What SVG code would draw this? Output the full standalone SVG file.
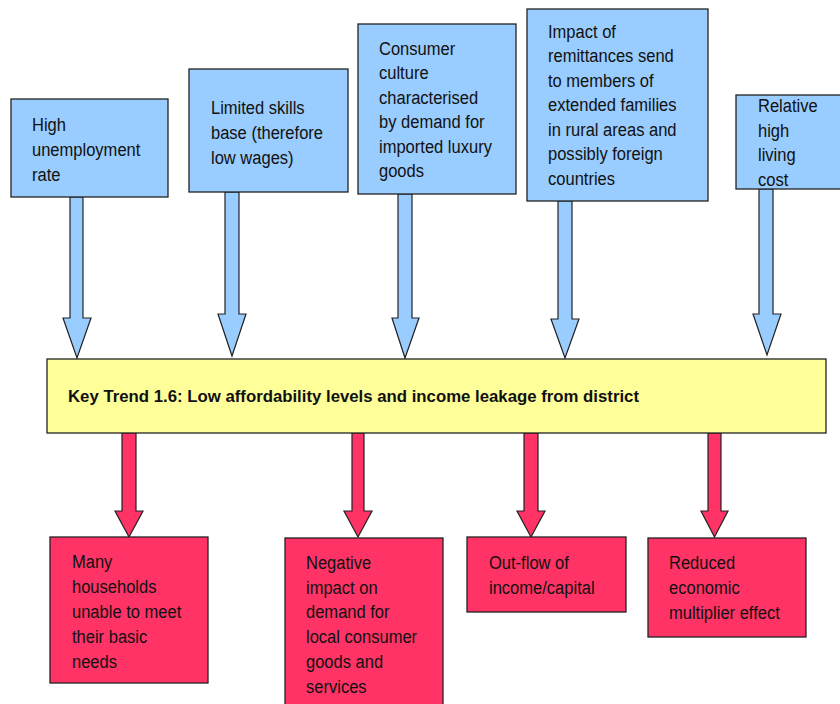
<svg xmlns="http://www.w3.org/2000/svg" width="840" height="704" viewBox="0 0 840 704">
  <style>
    .cause { fill: #99ccff; stroke: #222; stroke-width: 1.3; }
    .trend { fill: #ffff99; stroke: #222; stroke-width: 1.3; }
    .effect { fill: #ff3366; stroke: #222; stroke-width: 1.3; }
    .arrow-in { fill: #99ccff; stroke: #222; stroke-width: 1.2; stroke-linejoin: miter; }
    .arrow-out { fill: #ff3366; stroke: #222; stroke-width: 1.2; stroke-linejoin: miter; }
    text { font-family: "Liberation Sans", Arial, sans-serif; font-size: 19px; fill: #111; }
    .title { font-weight: bold; font-size: 17px; }
  </style>
  <rect width="840" height="704" fill="#ffffff"/>

  <!-- connectors: block arrows into and out of the key trend -->
  <g id="connectors">
    <path class="arrow-in" d="M70,197 H83 V318 H91 L77,358 L63,318 H70 Z"/>
    <path class="arrow-in" d="M225,192 H239 V314 H246 L232,356 L218,314 H225 Z"/>
    <path class="arrow-in" d="M398,194 H412 V318 H419 L405,358 L392,318 H398 Z"/>
    <path class="arrow-in" d="M558,201 H572 V319 H579 L565,358 L551,319 H558 Z"/>
    <path class="arrow-in" d="M759,189 H773 V314 H781 L767,355 L753,314 H759 Z"/>

    <path class="arrow-out" d="M122,433 H136 V511 H143 L129,537 L115,511 H122 Z"/>
    <path class="arrow-out" d="M352,433 H364 V511 H372 L358,537 L344,511 H352 Z"/>
    <path class="arrow-out" d="M524,433 H538 V511 H545 L531,537 L517,511 H524 Z"/>
    <path class="arrow-out" d="M708,433 H721 V511 H728 L714.5,537 L701,511 H708 Z"/>
  </g>

  <!-- causes (labels set condensed: x scaled by 0.87 about their left edge) -->
  <g id="cause-unemployment">
    <rect class="cause" x="11" y="99" width="157" height="98"/>
    <g transform="matrix(0.87 0 0 1 4.16 0)">
      <text x="32" y="131">High</text>
      <text x="32" y="156">unemployment</text>
      <text x="32" y="181">rate</text>
    </g>
  </g>
  <g id="cause-skills">
    <rect class="cause" x="189" y="69" width="159" height="123"/>
    <g transform="matrix(0.87 0 0 1 27.43 0)">
      <text x="211" y="114">Limited skills</text>
      <text x="211" y="139">base (therefore</text>
      <text x="211" y="164">low wages)</text>
    </g>
  </g>
  <g id="cause-consumer-culture">
    <rect class="cause" x="358" y="24" width="158" height="170"/>
    <g transform="matrix(0.87 0 0 1 49.27 0)">
      <text x="379" y="55">Consumer</text>
      <text x="379" y="79.5">culture</text>
      <text x="379" y="104">characterised</text>
      <text x="379" y="128.5">by demand for</text>
      <text x="379" y="153">imported luxury</text>
      <text x="379" y="177.5">goods</text>
    </g>
  </g>
  <g id="cause-remittances">
    <rect class="cause" x="527" y="9" width="181" height="192"/>
    <g transform="matrix(0.87 0 0 1 71.24 0)">
      <text x="548" y="38">Impact of</text>
      <text x="548" y="62.5">remittances send</text>
      <text x="548" y="87">to members of</text>
      <text x="548" y="111.5">extended families</text>
      <text x="548" y="136">in rural areas and</text>
      <text x="548" y="160.5">possibly foreign</text>
      <text x="548" y="185">countries</text>
    </g>
  </g>
  <g id="cause-living-cost">
    <rect class="cause" x="736" y="95" width="110" height="94"/>
    <g transform="matrix(0.87 0 0 1 98.54 0)">
      <text x="758" y="112">Relative</text>
      <text x="758" y="136.7">high</text>
      <text x="758" y="161.3">living</text>
      <text x="758" y="186">cost</text>
    </g>
  </g>

  <!-- key trend -->
  <g id="key-trend">
    <rect class="trend" x="47" y="359" width="779" height="74"/>
    <text class="title" x="68" y="402" textLength="571" lengthAdjust="spacingAndGlyphs">Key Trend 1.6: Low affordability levels and income leakage from district</text>
  </g>

  <!-- effects -->
  <g id="effect-basic-needs">
    <rect class="effect" x="50" y="537" width="158" height="146"/>
    <g transform="matrix(0.87 0 0 1 9.36 0)">
      <text x="72" y="568">Many</text>
      <text x="72" y="593">households</text>
      <text x="72" y="618">unable to meet</text>
      <text x="72" y="643">their basic</text>
      <text x="72" y="668">needs</text>
    </g>
  </g>
  <g id="effect-local-demand">
    <rect class="effect" x="285" y="538" width="158" height="180"/>
    <g transform="matrix(0.87 0 0 1 39.78 0)">
      <text x="306" y="569">Negative</text>
      <text x="306" y="594">impact on</text>
      <text x="306" y="618.5">demand for</text>
      <text x="306" y="643">local consumer</text>
      <text x="306" y="668">goods and</text>
      <text x="306" y="693">services</text>
    </g>
  </g>
  <g id="effect-outflow">
    <rect class="effect" x="467" y="537" width="159" height="75"/>
    <g transform="matrix(0.87 0 0 1 63.57 0)">
      <text x="489" y="569">Out-flow of</text>
      <text x="489" y="594">income/capital</text>
    </g>
  </g>
  <g id="effect-multiplier">
    <rect class="effect" x="648" y="538" width="158" height="99"/>
    <g transform="matrix(0.87 0 0 1 86.97 0)">
      <text x="669" y="569">Reduced</text>
      <text x="669" y="594">economic</text>
      <text x="669" y="619">multiplier effect</text>
    </g>
  </g>
</svg>
